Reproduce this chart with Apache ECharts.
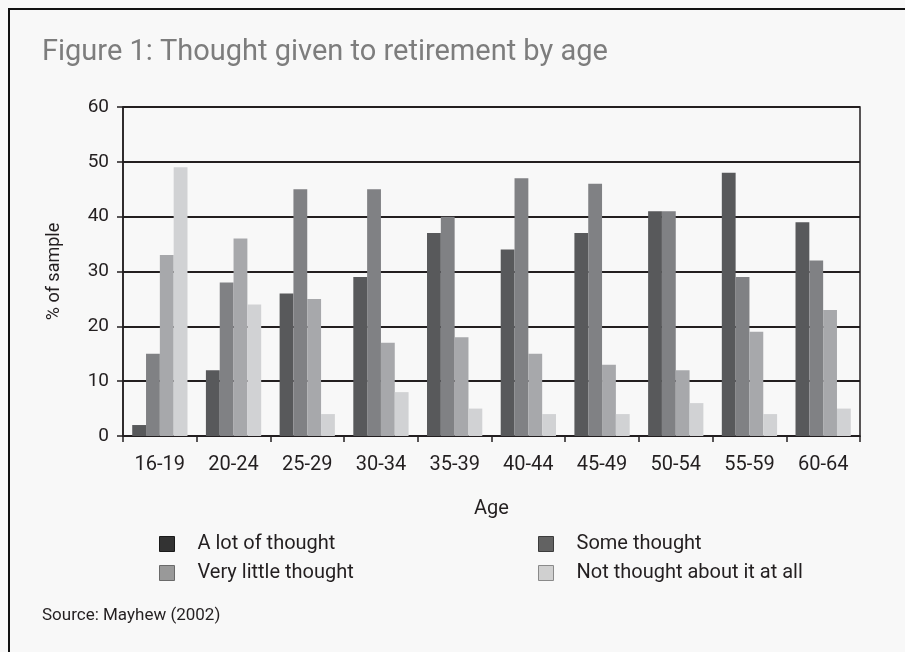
<!DOCTYPE html>
<html>
<head>
<meta charset="utf-8">
<script src="https://cdn.jsdelivr.net/npm/echarts@6/dist/echarts.min.js"></script>
<style>
  html, body { margin: 0; padding: 0; background: #f8f8f8; }
  #chart { width: 905px; height: 652px; }
</style>
</head>
<body>
<div id="chart"></div>
<script>
// Age bands on the horizontal axis
const ageGroups = ['16-19', '20-24', '25-29', '30-34', '35-39', '40-44', '45-49', '50-54', '55-59', '60-64'];

// Share of each age band (% of sample) by how much thought was given to retirement
const aLotOfThought      = [2, 12, 26, 29, 37, 34, 37, 41, 48, 39];
const someThought        = [15, 28, 45, 45, 40, 47, 46, 41, 29, 32];
const veryLittleThought  = [33, 36, 25, 17, 18, 15, 13, 12, 19, 23];
const notThoughtAtAll    = [49, 24, 4, 8, 5, 4, 4, 6, 4, 5];

const seriesNames = ['A lot of thought', 'Some thought', 'Very little thought', 'Not thought about it at all'];
const seriesValues = [aLotOfThought, someThought, veryLittleThought, notThoughtAtAll];

const barColors = ['#58595b', '#808184', '#a7a8ab', '#d1d2d4'];
const keyColors = ['#333333', '#626262', '#999999', '#d0d0d0'];
const keyBorders = ['#1a1a1a', '#3c3c3c', '#6a6a6a', '#8a8a8a'];

const FONT = 'Roboto';
const INK = '#231f20';

function keyItem(i) {
  return {
    name: seriesNames[i],
    itemStyle: { color: keyColors[i], borderColor: keyBorders[i], borderWidth: 1 }
  };
}

const legendBase = {
  orient: 'vertical',
  top: 534,
  padding: 0,
  itemWidth: 15,
  itemHeight: 15,
  itemGap: 9,
  icon: 'rect',
  selectedMode: false,
  textStyle: { fontFamily: FONT, fontSize: 20, color: INK, padding: [0, 0, 0, 18] }
};

const chart = echarts.init(document.getElementById('chart'), null, { renderer: 'canvas' });

chart.setOption({
  backgroundColor: '#f8f8f8',
  animation: false,
  title: {
    text: 'Figure 1: Thought given to retirement by age',
    left: 37,
    top: 33,
    textStyle: { fontFamily: FONT, fontSize: 29, fontWeight: 'normal', color: '#7d7d7d' }
  },
  graphic: [
    {
      type: 'rect',
      shape: { x: 9, y: 9, width: 1200, height: 1200 },
      style: { fill: 'none', stroke: '#111', lineWidth: 2 },
      silent: true
    },
    {
      type: 'text',
      left: 42,
      top: 607,
      style: { text: 'Source: Mayhew (2002)', fontFamily: FONT, fontSize: 17, fill: INK }
    }
  ],
  legend: [
    Object.assign({}, legendBase, { left: 159, data: [keyItem(0), keyItem(2)] }),
    Object.assign({}, legendBase, { left: 538, data: [keyItem(1), keyItem(3)] })
  ],
  grid: {
    left: 123,
    right: 45,
    top: 107,
    bottom: 216,
    show: true,
    borderColor: INK,
    borderWidth: 1.5,
    backgroundColor: 'transparent'
  },
  xAxis: {
    type: 'category',
    data: ageGroups,
    boundaryGap: true,
    name: 'Age',
    nameLocation: 'middle',
    nameGap: 63,
    nameTextStyle: { fontFamily: FONT, fontSize: 20, color: INK },
    axisLine: { lineStyle: { color: INK, width: 1.5 } },
    axisTick: { show: true, interval: 0, length: 6, lineStyle: { color: INK, width: 1.5 } },
    axisLabel: { interval: 0, margin: 19, fontFamily: FONT, fontSize: 20, color: INK }
  },
  yAxis: {
    type: 'value',
    min: 0,
    max: 60,
    interval: 10,
    name: '% of sample',
    nameLocation: 'middle',
    nameGap: 60,
    nameTextStyle: { fontFamily: FONT, fontSize: 18, color: INK },
    axisLine: { show: true, lineStyle: { color: INK, width: 1.5 } },
    axisTick: { show: true, length: 6, lineStyle: { color: INK, width: 1.5 } },
    axisLabel: { margin: 14, fontFamily: FONT, fontSize: 19, color: INK },
    splitLine: { show: true, lineStyle: { color: INK, width: 2 } }
  },
  series: seriesNames.map((name, i) => ({
    name: name,
    type: 'bar',
    data: seriesValues[i],
    barGap: '0%',
    barCategoryGap: '25%',
    itemStyle: { color: barColors[i] },
    emphasis: { disabled: true }
  }))
});
</script>
</body>
</html>
